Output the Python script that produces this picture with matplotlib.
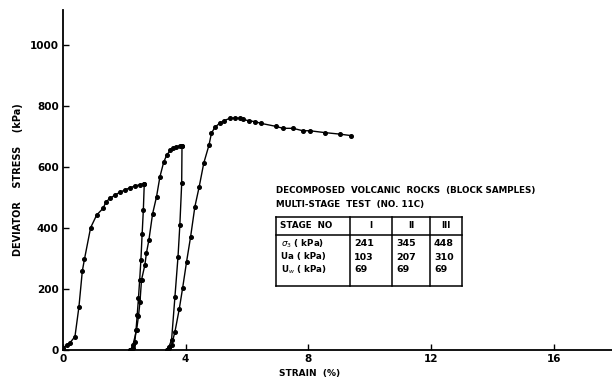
import matplotlib
matplotlib.use("Agg")
from matplotlib import pyplot as plt

# stage I loading
s1_strain = [0.0, 0.01, 0.12, 0.23, 0.39, 0.52, 0.63, 0.70, 0.90, 1.10, 1.31, 1.40, 1.53, 1.69, 1.85, 2.02, 2.18, 2.35, 2.50, 2.65]
s1_stress = [0, 5, 16, 24, 44, 142, 259, 298, 401, 443, 465, 486, 497, 508, 517, 525, 532, 538, 542, 546]
# unloading after stage I
u1_strain = [2.65, 2.62, 2.58, 2.54, 2.50, 2.46, 2.42, 2.38, 2.34, 2.28, 2.20]
u1_stress = [546, 460, 380, 295, 230, 170, 115, 65, 25, 8, 0]
# stage II loading
s2_strain = [2.20, 2.28, 2.40, 2.46, 2.51, 2.56, 2.67, 2.72, 2.80, 2.92, 3.05, 3.16, 3.28, 3.38, 3.50, 3.58, 3.70, 3.80, 3.88]
s2_stress = [0, 16, 66, 110, 158, 230, 279, 318, 360, 446, 503, 568, 615, 639, 655, 662, 667, 669, 670]
# unloading after stage II
u2_strain = [3.88, 3.87, 3.81, 3.75, 3.65, 3.54, 3.45, 3.38]
u2_stress = [670, 547, 410, 306, 175, 33, 10, 0]
# stage III loading
s3_strain = [3.38, 3.45, 3.54, 3.65, 3.79, 3.90, 4.03, 4.16, 4.30, 4.44, 4.59, 4.76, 4.84, 4.95, 5.11, 5.25, 5.44, 5.60, 5.77,
             5.87, 6.05, 6.25, 6.47, 6.96, 7.17, 7.50, 7.82, 8.05, 8.53, 9.02, 9.40]
s3_stress = [0, 5, 16, 60, 134, 203, 290, 371, 470, 535, 613, 672, 711, 730, 744, 752, 760, 761, 760,
             756, 752, 749, 743, 733, 727, 727, 719, 719, 713, 708, 703]

stages = ["I", "II", "III"]
sigma3 = ["241", "345", "448"]
ua = ["103", "207", "310"]
uw = ["69", "69", "69"]

fig = plt.figure(figsize=(6.12, 3.8), dpi=100)
ax = fig.add_axes([63 / 612, 30 / 380, 549 / 612, 340 / 380])

for xs, ys in [(s1_strain, s1_stress), (u1_strain, u1_stress), (s2_strain, s2_stress),
               (u2_strain, u2_stress), (s3_strain, s3_stress)]:
    ax.plot(xs, ys, color="black", lw=1.0, marker="o", ms=2.6)

ax.set_xlim(0, 17.9)
ax.set_ylim(0, 1115)
ax.spines["top"].set_visible(False)
ax.spines["right"].set_visible(False)
ax.spines["left"].set_linewidth(1.3)
ax.spines["bottom"].set_linewidth(1.3)
ax.set_xticks([0, 4, 8, 12, 16])
ax.set_yticks([0, 200, 400, 600, 800, 1000])
ax.tick_params(direction="in", length=4, width=1, labelsize=7.5, pad=3)
for lab in ax.get_xticklabels() + ax.get_yticklabels():
    lab.set_fontweight("bold")

ax.set_ylabel("DEVIATOR    STRESS    (kPa)", fontsize=7, fontweight="bold", labelpad=5)
ax.set_xlabel("STRAIN  (%)", fontsize=6.5, fontweight="bold", labelpad=4)
ax.xaxis.set_label_coords((310 - 63) / 549, -0.055)

fig.text(276 / 612, 1 - 190 / 380, "DECOMPOSED  VOLCANIC  ROCKS  (BLOCK SAMPLES)",
         fontsize=6.3, fontweight="bold", va="center")
fig.text(276 / 612, 1 - 205 / 380, "MULTI-STAGE  TEST  (NO. 11C)",
         fontsize=6.3, fontweight="bold", va="center")

# table
cols = [276, 350, 392, 430, 462]
top, head, bot = 217, 235, 286
fx = lambda p: p / 612
fy = lambda p: 1 - p / 380
for x in cols:
    fig.add_artist(plt.Line2D([fx(x), fx(x)], [fy(top), fy(bot)], color="black", lw=1.1))
for y in [top, head, bot]:
    fig.add_artist(plt.Line2D([fx(cols[0]), fx(cols[-1])], [fy(y), fy(y)], color="black", lw=1.1))

fig.text(fx(280), fy(226), "STAGE  NO", fontsize=6.3, fontweight="bold", va="center")
for i, st in enumerate(stages):
    fig.text(fx((cols[i + 1] + cols[i + 2]) / 2), fy(226), st, fontsize=6.3,
             fontweight="bold", va="center", ha="center")
row_labels = [r"$\sigma_3$ ( kPa)", "Ua ( kPa)", r"U$_w$ ( kPa)"]
rows = [sigma3, ua, uw]
for r, (lbl, vals) in enumerate(zip(row_labels, rows)):
    yy = 244 + r * 13
    fig.text(fx(281), fy(yy), lbl, fontsize=6.3, fontweight="bold", va="center")
    for i, v in enumerate(vals):
        fig.text(fx(cols[i + 1] + 4), fy(yy), v, fontsize=6.8, fontweight="bold", va="center")

fig.savefig("out.png", dpi=100)
